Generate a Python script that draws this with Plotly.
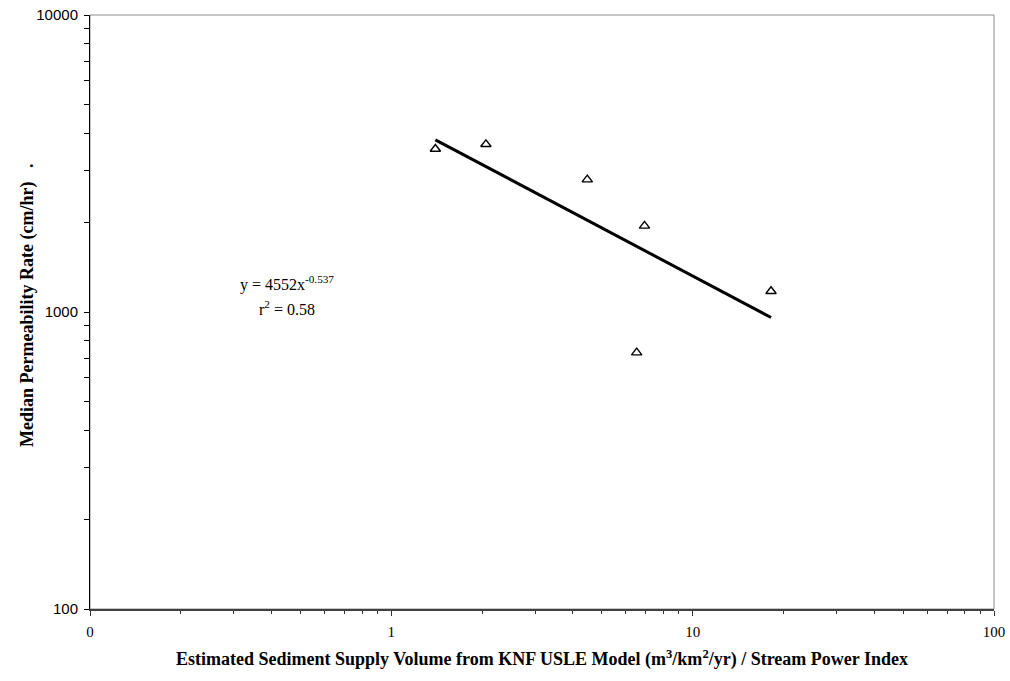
import plotly.graph_objects as go
import numpy as np

# Data
supply_spi = [1.40, 2.06, 4.47, 6.92, 18.2, 6.52]
permeability = [3540, 3670, 2790, 1950, 1175, 730]

# Power-law trendline as displayed: y = 4552 x^-0.537
fit_a = 4552
fit_b = -0.537
fit_r2 = 0.58

x_tickvals = [0.1, 1, 10, 100]
x_ticktext = ["0", "1", "10", "100"]
y_tickvals = [100, 1000, 10000]
y_ticktext = ["100", "1000", "10000"]

x_minor = [m * 10.0 ** e for e in (-1, 0, 1) for m in range(2, 10)]
y_minor = [m * 10.0 ** e for e in (2, 3) for m in range(2, 10)]

fit_x = np.logspace(np.log10(min(supply_spi)), np.log10(max(supply_spi)), 50)
fit_y = fit_a * fit_x ** fit_b

fig = go.Figure()
fig.add_trace(go.Scatter(
    x=fit_x, y=fit_y, mode="lines",
    line=dict(color="black", width=3), showlegend=False, hoverinfo="skip"))
fig.add_trace(go.Scatter(
    x=supply_spi, y=permeability, mode="markers",
    marker=dict(symbol="triangle-up-open", size=9, color="black",
                line=dict(width=1.4, color="black")),
    showlegend=False))

serif = "Liberation Serif, Times New Roman, serif"
sans = "Liberation Sans, Arial, sans-serif"

fig.update_layout(
    width=1010, height=681,
    autosize=False,
    margin=dict(l=90, r=16, t=15, b=72, pad=0),
    paper_bgcolor="white", plot_bgcolor="white",
    xaxis=dict(
        type="log", range=[-1, 2], automargin=False,
        tickvals=x_tickvals, ticktext=x_ticktext,
        tickfont=dict(family=serif, size=15, color="black"),
        ticks="outside", ticklen=5, tickcolor="#333", tickwidth=1,
        ticklabelstandoff=3,
        minor=dict(tickvals=x_minor, ticks="outside", ticklen=3, tickcolor="#333"),
        showgrid=False, zeroline=False,
        showline=True, linecolor="#404040", linewidth=1.5,
        title=dict(text="<b>Estimated Sediment Supply Volume from KNF USLE Model (m<sup>3</sup>/km<sup>2</sup>/yr) / Stream Power Index</b>",
                   font=dict(family=serif, size=18, color="black"), standoff=14),
    ),
    yaxis=dict(
        type="log", range=[2, 4], automargin=False,
        tickvals=y_tickvals, ticktext=y_ticktext,
        tickfont=dict(family=sans, size=15, color="black"),
        ticks="outside", ticklen=5, tickcolor="black", tickwidth=1,
        ticklabelstandoff=3,
        minor=dict(tickvals=y_minor, ticks="outside", ticklen=5, tickcolor="black"),
        showgrid=False, zeroline=False,
        showline=True, linecolor="black", linewidth=1,
    ),
    shapes=[dict(type="rect", xref="paper", yref="paper", x0=0, x1=1, y0=0, y1=1,
                 line=dict(color="#8c8c8c", width=1), layer="below")],
    annotations=[
        dict(x=0, y=0.5, xref="paper", yref="paper", xanchor="center", yanchor="middle",
             xshift=-63, yshift=6, textangle=-90, showarrow=False,
             text="<b>Median Permeability Rate (cm/hr)   .</b>",
             font=dict(family=serif, size=18, color="black")),
        dict(x=np.log10(0.45), y=np.log10(1250), xref="x", yref="y",
             text="y = %dx<sup>%s</sup>" % (fit_a, fit_b), showarrow=False,
             font=dict(family=serif, size=16, color="black")),
        dict(x=np.log10(0.45), y=np.log10(1035), xref="x", yref="y",
             text="r<sup>2</sup> = %.2f" % fit_r2, showarrow=False,
             font=dict(family=serif, size=16, color="black")),
    ],
)

fig.write_html("out.html")
